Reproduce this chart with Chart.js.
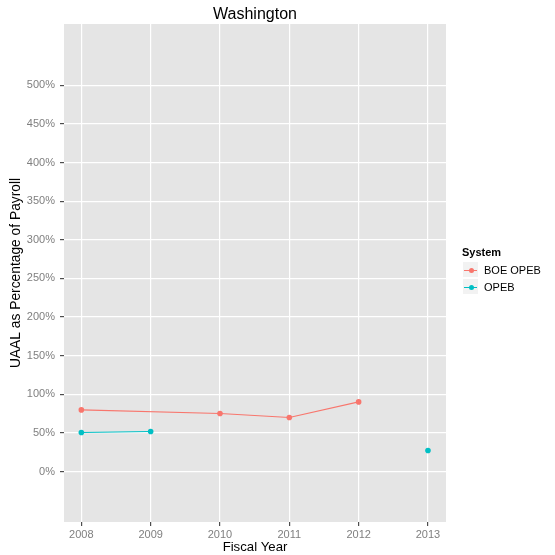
<!DOCTYPE html>
<html>
<head>
<meta charset="utf-8">
<script src="https://cdn.jsdelivr.net/npm/chart.js@4"></script>
<style>
  body { margin: 0; background: #fff; font-family: "Liberation Sans", Arial, sans-serif; }
  #wrap { position: relative; width: 555px; height: 555px; }
  #legend { position: absolute; left: 462px; top: 244px; font-size: 11px; color: #000; }
  #legend .ttl { font-weight: bold; height: 17px; line-height: 17px; }
  #legend .row { display: flex; align-items: center; height: 17px; margin-top: 0; }
  #legend .key { position: relative; width: 17px; height: 17px; background: #f2f2f2; border: 0.5px solid #fff; box-sizing: border-box; margin-right: 5px; }
  #legend .key i { position: absolute; left: 1px; right: 1px; top: 8px; height: 1px; }
  #legend .key b { position: absolute; left: 6px; top: 6px; width: 5px; height: 5px; border-radius: 50%; }
</style>
</head>
<body>
<div id="wrap">
  <canvas id="c" width="555" height="555"></canvas>
  <div id="legend"></div>
</div>
<script>
const chartTitle = 'Washington';
const boeYears = [2008, 2010, 2011, 2012];
const boeValues = [79.8, 75.1, 69.9, 90.2];
const opebYears = [2008, 2009, 2010, 2011, 2012, 2013];
const opebValues = [50.5, 51.8, null, null, null, 27.2];
const xTicks = [2008, 2009, 2010, 2011, 2012, 2013];
const yTicks = [0, 50, 100, 150, 200, 250, 300, 350, 400, 450, 500];

const series = [
  { label: 'BOE OPEB', years: boeYears, values: boeValues, color: '#F8766D' },
  { label: 'OPEB', years: opebYears, values: opebValues, color: '#00BFC4' },
];

document.getElementById('legend').innerHTML = '<div class="ttl">System</div>' +
  series.map(s => `<div class="row"><span class="key"><i style="background:${s.color}"></i><b style="background:${s.color}"></b></span>${s.label}</div>`).join('');

const fontFamily = '"Liberation Sans", Arial, sans-serif';
const font = { family: fontFamily };

// grey panel + title centred over the panel (ggplot style)
const panel = {
  id: 'panel',
  beforeDraw(chart) {
    const a = chart.chartArea, ctx = chart.ctx;
    ctx.save();
    ctx.fillStyle = '#E5E5E5';
    ctx.fillRect(a.left, a.top, a.right - a.left, a.bottom - a.top);
    ctx.restore();
  },
  afterDraw(chart) {
    const a = chart.chartArea, ctx = chart.ctx;
    ctx.save();
    ctx.fillStyle = '#000';
    ctx.font = '16px ' + fontFamily;
    ctx.textAlign = 'center';
    ctx.textBaseline = 'alphabetic';
    ctx.fillText(chartTitle, (a.left + a.right) / 2, 19);
    ctx.restore();
  }
};

new Chart(document.getElementById('c'), {
  type: 'line',
  data: {
    datasets: series.map(s => ({
      label: s.label,
      data: s.years.map((yr, i) => ({ x: yr, y: s.values[i] })),
      borderColor: s.color, backgroundColor: s.color,
      borderWidth: 1.1, pointRadius: 2.8, pointBorderWidth: 0,
      pointBackgroundColor: s.color, spanGaps: false, tension: 0,
    })),
  },
  options: {
    responsive: false, animation: false,
    layout: { padding: { left: 0, right: 109, top: 24, bottom: 0 } },
    plugins: {
      legend: { display: false },
      tooltip: { enabled: false },
      title: { display: false },
    },
    scales: {
      x: {
        type: 'linear', min: 2007.75, max: 2013.26,
        afterBuildTicks: sc => { sc.ticks = xTicks.map(v => ({ value: v })); },
        afterFit: sc => { sc.height = 33; },
        grid: { color: '#fff', lineWidth: 1.2, tickColor: '#4d4d4d', tickLength: 4, drawTicks: true },
        border: { display: false },
        ticks: { color: '#7F7F7F', font: { ...font, size: 11 }, padding: 2, maxRotation: 0, callback: v => String(v) },
        title: { display: true, text: 'Fiscal Year', color: '#000', font: { ...font, size: 13.2 }, padding: { top: 0, bottom: 0 } },
      },
      y: {
        type: 'linear', min: -65.3, max: 579.4,
        afterBuildTicks: sc => { sc.ticks = yTicks.map(v => ({ value: v })); },
        afterFit: sc => { sc.width = 64; },
        grid: { color: '#fff', lineWidth: 1.2, tickColor: '#4d4d4d', tickLength: 4, drawTicks: true },
        border: { display: false },
        ticks: { color: '#7F7F7F', font: { ...font, size: 11 }, padding: 5, callback: v => v + '%' },
        title: { display: true, text: 'UAAL as Percentage of Payroll', color: '#000', font: { ...font, size: 13.8 }, padding: { top: 8, bottom: 0 } },
      },
    },
  },
  plugins: [panel],
});
</script>
</body>
</html>
